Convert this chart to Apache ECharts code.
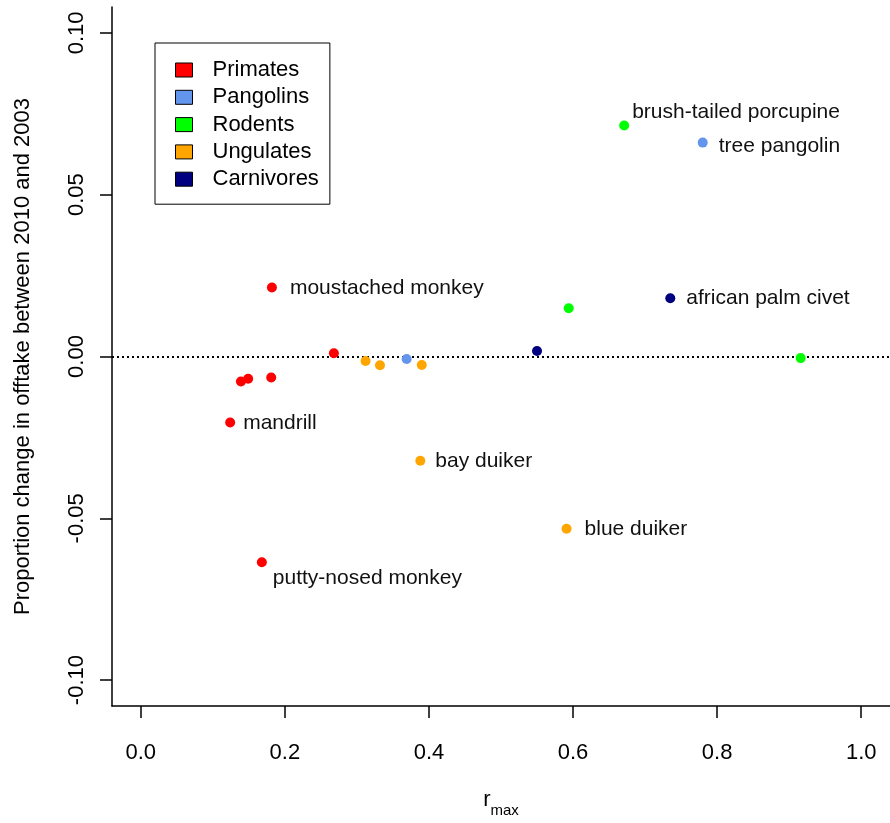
<!DOCTYPE html>
<html>
<head>
<meta charset="utf-8">
<script src="https://cdn.jsdelivr.net/npm/echarts@6/dist/echarts.min.js"></script>
<style>
html,body{margin:0;padding:0;background:#fff;}
#chart{width:890px;height:823px;}
</style>
</head>
<body>
<div id="chart"></div>
<script>
// ---- data ----
const groups = ['Primates', 'Pangolins', 'Rodents', 'Ungulates', 'Carnivores'];
const groupColors = ['#FF0000', '#6495ED', '#00FF00', '#FFA500', '#000080'];

const primatesX = [0.182, 0.268, 0.139, 0.149, 0.181, 0.124, 0.168];
const primatesY = [0.0213, 0.0010, -0.0077, -0.0069, -0.0065, -0.0204, -0.0636];
const primatesNames = ['moustached monkey', '', '', '', '', 'mandrill', 'putty-nosed monkey'];

const pangolinsX = [0.369, 0.780];
const pangolinsY = [-0.0008, 0.0661];
const pangolinsNames = ['', 'tree pangolin'];

const rodentsX = [0.671, 0.594, 0.916];
const rodentsY = [0.0714, 0.0149, -0.0005];
const rodentsNames = ['brush-tailed porcupine', '', ''];

const ungulatesX = [0.312, 0.332, 0.390, 0.388, 0.591];
const ungulatesY = [-0.0014, -0.0027, -0.0026, -0.0322, -0.0532];
const ungulatesNames = ['', '', '', 'bay duiker', 'blue duiker'];

const carnivoresX = [0.550, 0.735];
const carnivoresY = [0.0017, 0.0180];
const carnivoresNames = ['', 'african palm civet'];

const xTicks = [0, 0.2, 0.4, 0.6, 0.8, 1.0];
const yTicks = [-0.10, -0.05, 0, 0.05, 0.10];
const refLineY = 0;

// ---- label placement (style only): [gap right of symbol, vertical shift] ----
const labelOffsets = {
  'moustached monkey': [13, 1],
  'mandrill': [8, 1],
  'putty-nosed monkey': [6, 16],
  'tree pangolin': [11, 4],
  'brush-tailed porcupine': [3, -13],
  'bay duiker': [10, 1],
  'blue duiker': [13, 1],
  'african palm civet': [11, 0]
};

const FONT = '"Liberation Sans", Arial, Helvetica, sans-serif';
const SYM = 10;
const xs = [primatesX, pangolinsX, rodentsX, ungulatesX, carnivoresX];
const ys = [primatesY, pangolinsY, rodentsY, ungulatesY, carnivoresY];
const ns = [primatesNames, pangolinsNames, rodentsNames, ungulatesNames, carnivoresNames];

function buildData(xArr, yArr, nArr) {
  return xArr.map((x, i) => {
    const name = nArr[i];
    const item = { value: [x, yArr[i]], name: name };
    if (name) {
      const off = labelOffsets[name] || [8, 0];
      item.label = {
        show: true,
        position: [SYM + off[0], SYM / 2 + off[1]],
        align: 'left',
        verticalAlign: 'middle',
        formatter: name,
        fontSize: 21,
        fontFamily: FONT,
        color: '#111'
      };
    }
    return item;
  });
}

const series = groups.map((g, gi) => {
  const s = {
    name: g,
    type: 'scatter',
    symbol: 'circle',
    symbolSize: SYM,
    itemStyle: { color: groupColors[gi], opacity: 1 },
    data: buildData(xs[gi], ys[gi], ns[gi]),
    z: 3,
    emphasis: { disabled: true }
  };
  if (gi === 0) {
    s.markLine = {
      silent: true,
      symbol: ['none', 'none'],
      label: { show: false },
      lineStyle: { color: '#000', type: [2, 3], width: 2 },
      data: [{ yAxis: refLineY }],
      z: 1,
      animation: false
    };
  }
  return s;
});

const chart = echarts.init(document.getElementById('chart'), null, { renderer: 'canvas' });
chart.setOption({
  animation: false,
  backgroundColor: '#fff',
  textStyle: { fontFamily: FONT },
  grid: { left: 112, top: 7, width: 783.8, height: 702, containLabel: false },
  legend: {
    orient: 'vertical',
    left: 155,
    top: 43,
    padding: [16, 11, 14, 20],
    itemWidth: 17,
    itemHeight: 14,
    itemGap: 5.3,
    icon: 'rect',
    backgroundColor: '#fff',
    borderColor: '#000',
    borderWidth: 1,
    borderRadius: 0,
    selectedMode: false,
    itemStyle: { borderColor: '#000', borderWidth: 1 },
    textStyle: { fontSize: 22, fontFamily: FONT, color: '#000', padding: [0, 0, 0, 15] },
    data: groups
  },
  xAxis: {
    type: 'value',
    min: -0.04,
    max: 1.04,
    name: '{r|r}{s|max}',
    nameLocation: 'middle',
    nameGap: 83,
    nameTextStyle: {
      rich: {
        r: { fontSize: 22, fontFamily: FONT, color: '#000', verticalAlign: 'top' },
        s: { fontSize: 15, fontFamily: FONT, color: '#000', verticalAlign: 'bottom', padding: [14, 0, 0, 0] }
      }
    },
    axisLine: { show: true, onZero: false, lineStyle: { color: '#000', width: 1.5 } },
    axisTick: { show: true, inside: false, length: 12, lineStyle: { color: '#000', width: 1.5 }, customValues: xTicks },
    axisLabel: {
      customValues: xTicks,
      margin: 36,
      fontSize: 22,
      fontFamily: FONT,
      color: '#000',
      formatter: v => v.toFixed(1)
    },
    splitLine: { show: false }
  },
  yAxis: {
    type: 'value',
    min: -0.108,
    max: 0.108,
    name: 'Proportion change in offtake between 2010 and 2003',
    nameLocation: 'middle',
    nameGap: 78,
    nameRotate: 90,
    nameTextStyle: { fontSize: 22, fontFamily: FONT, color: '#000' },
    axisLine: { show: true, onZero: false, lineStyle: { color: '#000', width: 1.5 } },
    axisTick: { show: true, inside: false, length: 12, lineStyle: { color: '#000', width: 1.5 }, customValues: yTicks },
    axisLabel: {
      customValues: yTicks,
      rotate: 90,
      margin: 24,
      fontSize: 22,
      fontFamily: FONT,
      color: '#000',
      formatter: v => v.toFixed(2)
    },
    splitLine: { show: false }
  },
  series: series
});
</script>
</body>
</html>
